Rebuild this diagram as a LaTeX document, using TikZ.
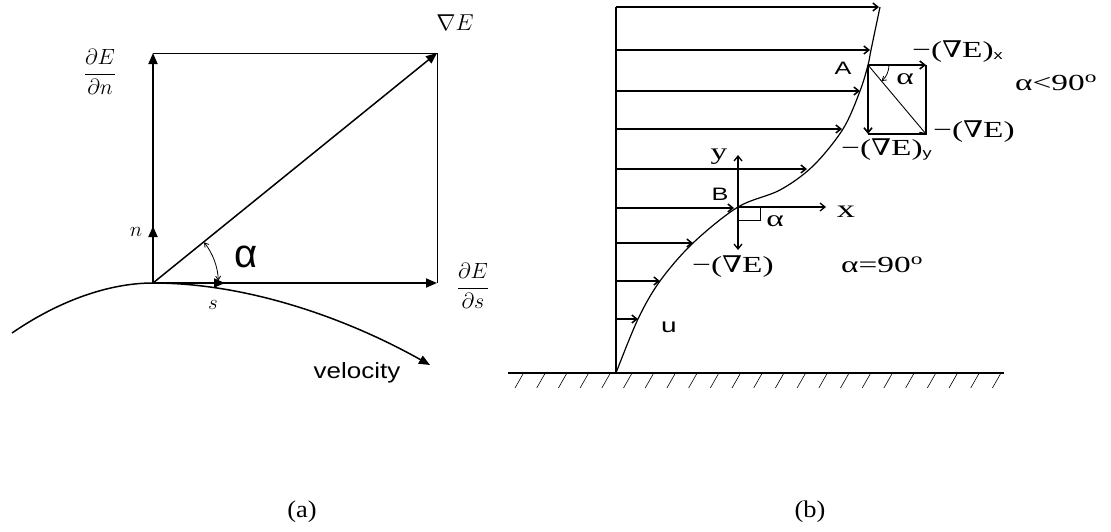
\documentclass[tikz,border=0pt]{standalone}
\usepackage{fix-cm}
\usepackage{graphicx}
\usepackage{fontspec}
\setmainfont{Liberation Serif}
\newfontfamily\rser[FakeStretch=1.45]{Liberation Serif}
\newfontfamily\capser[FakeStretch=1.1]{Liberation Serif}
\newfontfamily\rsans[FakeStretch=1.4]{Liberation Sans}
\newfontfamily\rnab[FakeStretch=1.25]{DejaVu Serif}
\newfontfamily\lsans[FakeStretch=1.18]{Liberation Sans}
\newfontfamily\asans{Liberation Sans}
\usetikzlibrary{arrows.meta}
\newcommand{\mynab}{{\rnab ∇}}
\newcommand{\gradlbl}{−(\mynab E)}
\newcommand{\subsans}[1]{\raisebox{-1.5pt}{\rsans\fontsize{13}{13}\selectfont #1}}
\tikzset{
  thickv/.style={line width=1.8pt},
  thinv/.style={line width=0.8pt},
  tri/.style={-{Triangle[length=11pt,width=9pt]}},
  barb/.style={-{Straight Barb[length=5pt,width=8pt]}},
  smallbarb/.style={-{Straight Barb[length=4pt,width=5pt]}},
  bothbarb/.style={{Straight Barb[length=4pt,width=5pt]}-{Straight Barb[length=4pt,width=5pt]}},
  rlbl/.style={inner sep=0pt, anchor=west, font=\rser\fontsize{23}{25}\selectfont},
  rlblc/.style={inner sep=0pt, font=\rser\fontsize{23}{25}\selectfont},
  rsanslbl/.style={inner sep=0pt, font=\rsans\fontsize{18}{20}\selectfont},
  mathlbl/.style={inner sep=0pt, font=\fontsize{22}{26}\selectfont},
  caplbl/.style={inner sep=0pt, font=\capser\fontsize{24}{26}\selectfont},
  profarrow/.style={line width=1.5pt, barb},
}
\begin{document}
\begin{tikzpicture}[x=1pt,y=-1pt]
\useasboundingbox (0,0) rectangle (1111,531);

% ---------------- (a) ----------------
\coordinate (O) at (153,283);
\coordinate (N) at (153,53);
\coordinate (S) at (437,283);
\coordinate (G) at (437,53);
\coordinate (nU) at (153,226);
\coordinate (sU) at (225,283);
\coordinate (C0) at (12,333);
\coordinate (C1) at (430,365);

\draw[thinv] (N) -- (G) -- (S);
\draw[thickv,tri] (O) -- (N);
\draw[thickv,tri] (O) -- (nU);
\draw[thickv,tri] (O) -- (S);
\draw[thickv,tri] (O) -- (sU);
\draw[line width=1.5pt,tri] (O) -- (G);
\draw[line width=1.5pt,tri] (C0) .. controls (60,300) and (110,283) .. (O)
      .. controls (250,283) and (350,320) .. (C1);
\draw[thinv,bothbarb] (204,242.3) arc[start angle=-38.8, end angle=-2, radius=65];

\node[mathlbl,font=\fontsize{23}{26}\selectfont] (gradE) at (455,23) {$\nabla E$};
\node[mathlbl] (dEdn) at (100,72) {$\displaystyle\frac{\partial E}{\partial n}$};
\node[mathlbl] (dEds) at (473,286) {$\displaystyle\frac{\partial E}{\partial s}$};
\node[mathlbl,font=\fontsize{21}{24}\selectfont] (nlab) at (136,232) {$n$};
\node[mathlbl,font=\fontsize{21}{24}\selectfont] (slab) at (213,305) {$s$};
\node[inner sep=0pt,font=\asans\fontsize{40}{44}\selectfont] (alab) at (246,257) {α};
\node[inner sep=0pt,font=\lsans\fontsize{22}{24}\selectfont] (vel) at (357,373) {velocity};
\node[caplbl] (capa) at (302,512) {(a)};

% ---------------- (b) ----------------
\coordinate (W0) at (616,373);
\coordinate (W1) at (616,7);
\coordinate (g0) at (508,373);
\coordinate (g1) at (1004,373);
\draw[thickv] (W0) -- (W1);
\draw[thickv] (g0) -- (g1);
\foreach \i in {0,...,22} \draw[line width=0.6pt] ({515+21.7*\i},388) -- ++(8,-14);

\foreach \yy/\xx in {7/879, 50/870, 91/860, 129/842, 169/807, 208/734, 243/693, 281/660, 319/638}
  \draw[profarrow] (616,\yy) -- (\xx,\yy);

\draw[line width=1.2pt] plot[smooth, tension=0.55] coordinates
  {(616,373) (638,319) (660,281) (693,243) (738,207) (780,190) (813,166) (843,129) (860,91) (868,65) (871,50) (880,7)};

% point B
\coordinate (B) at (738,207);
\coordinate (By) at (738,155);
\coordinate (Bd) at (738,250);
\coordinate (Bx) at (826,207);
\draw[line width=1.3pt,barb] (B) -- (By);
\draw[line width=1.3pt,barb] (B) -- (Bd);
\draw[line width=1.3pt,barb] (B) -- (Bx);
\draw[thinv] (738,220) -- (760,220) -- (760,207);

% point A
\coordinate (A) at (868,65);
\coordinate (Ar) at (926,65);
\coordinate (Ab) at (868,134);
\coordinate (Ad) at (926,134);
\draw[line width=1.6pt,barb] (A) -- (Ar);
\draw[line width=1.6pt,barb] (A) -- (Ab);
\draw[line width=1.6pt] (Ar) -- (Ad) -- (Ab);
\draw[line width=0.9pt,barb] (A) -- (Ad);
\draw[thinv,smallbarb] (889,65) arc[start angle=0, end angle=50, radius=21];

\node[rsanslbl] (Alab) at (843,68) {A};
\node[rsanslbl] (Blab) at (720,194) {B};
\node[rsanslbl,font=\rsans\fontsize{20}{22}\selectfont] (ulab) at (669,327) {u};
\node[rlblc] (ylab) at (719,157) {y};
\node[rlblc,font=\rser\fontsize{25}{27}\selectfont] (xlab) at (846,212) {x};
\node[rlblc] (aB) at (775,221) {α};
\node[rlblc] (aA) at (905,79) {α};
\node[rlbl] (gEx) at (912,52) {\gradlbl\subsans{x}};
\node[rlbl] (gE1) at (933,132) {\gradlbl};
\node[rlbl] (gEy) at (841,150) {\gradlbl\subsans{y}};
\node[rlbl] (gE2) at (692,267) {\gradlbl};
\node[rlbl] (a90) at (841,265) {α=90\textsuperscript{o}};
\node[rlbl] (al90) at (1015,83) {α<90\textsuperscript{o}};
\node[caplbl] (capb) at (810,512) {(b)};
\end{tikzpicture}
\end{document}
